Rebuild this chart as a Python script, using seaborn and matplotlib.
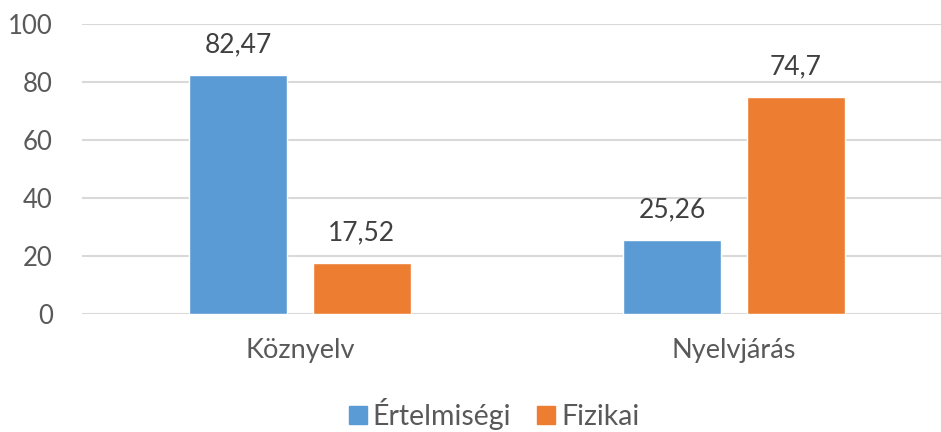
import pandas as pd
import matplotlib
matplotlib.use('Agg')
import matplotlib.pyplot as plt
import seaborn as sns

# values
categories = ['Köznyelv', 'Nyelvjárás']
series_names = ['Értelmiségi', 'Fizikai']
ertelmisegi = [82.47, 25.26]
fizikai = [17.52, 74.7]
y_ticks = [0, 20, 40, 60, 80, 100]

colors = ['#5B9BD5', '#ED7D31']

df = pd.DataFrame({
    'kategoria': categories * 2,
    'csoport': [series_names[0]] * 2 + [series_names[1]] * 2,
    'ertek': ertelmisegi + fizikai,
})

sns.set_style('white')
plt.rcParams['font.family'] = ['Lato', 'DejaVu Sans']

fig = plt.figure(figsize=(9.41, 4.32), dpi=100)
# axes right edge runs past the picture, like the cropped original
ax = fig.add_axes([82 / 941, 1 - 313.5 / 432, (941 - 82) / 941, (313.5 - 24) / 432])

sns.barplot(data=df, x='kategoria', y='ertek', hue='csoport',
            palette=colors, width=0.571, gap=0.21, saturation=1,
            ax=ax, legend=False)

ax.set_xlim(-0.502, 1.477)
ax.set_ylim(0, 100)
ax.set_yticks(y_ticks)
ax.set_xlabel('')
ax.set_ylabel('')
ax.yaxis.grid(True, color='#D9D9D9', linewidth=1.5)
ax.set_axisbelow(True)
for s in ax.spines.values():
    s.set_visible(False)
ax.tick_params(axis='both', length=0, colors='#595959')
ax.tick_params(axis='y', pad=21, labelsize=18.5)
ax.tick_params(axis='x', pad=17.5, labelsize=19.5)

# data labels with decimal comma
for cont in ax.containers:
    for bar in cont:
        h = bar.get_height()
        ax.annotate(f'{h:g}'.replace('.', ','),
                    (bar.get_x() + bar.get_width() / 2, h),
                    xytext=(0, 16.5), textcoords='offset points',
                    ha='center', va='baseline', fontsize=19, color='#404040')

handles = [plt.Rectangle((0, 0), 1, 1, color=c) for c in colors]
fig.legend(handles, series_names, loc='center', bbox_to_anchor=(494 / 941, 1 - 414 / 432),
           ncol=2, frameon=False, fontsize=20.5, handlelength=0.65, handleheight=0.6,
           handletextpad=0.2, columnspacing=0.9, labelcolor='#595959', borderpad=0.1)

fig.savefig('out.png', dpi=100)
